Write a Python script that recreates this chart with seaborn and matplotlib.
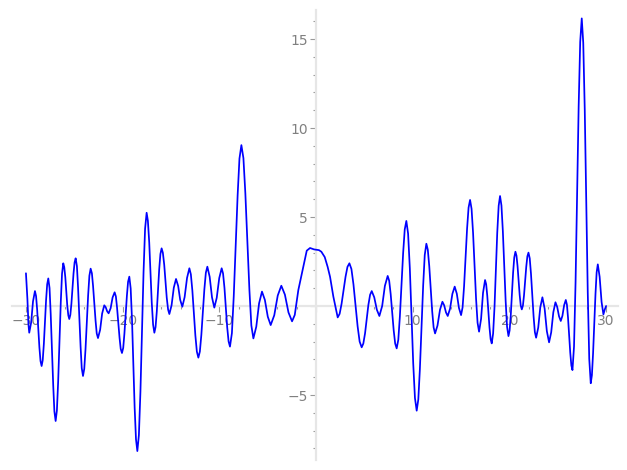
import matplotlib
matplotlib.use("Agg")
import matplotlib.pyplot as plt
from matplotlib.ticker import MultipleLocator, FuncFormatter
import seaborn as sns
import pandas as pd

# Curve samples (x, y)
x_vals = [
    -30.00, -29.85, -29.74, -29.66, -29.46, -29.27, -29.07, -28.84, -28.61, -28.38,
    -28.15, -27.92, -27.69, -27.44, -27.18, -26.93, -26.67, -26.40, -26.14, -25.93,
    -25.73, -25.52, -25.30, -25.08, -24.86, -24.61, -24.35, -24.10, -23.84, -23.57,
    -23.31, -23.06, -22.80, -22.55, -22.33, -22.12, -21.90, -21.75, -21.60, -21.45,
    -21.24, -21.04, -20.83, -20.58, -20.32, -20.07, -19.82, -19.56, -19.31, -19.03,
    -18.76, -18.48, -18.16, -17.84, -17.52, -17.25, -16.99, -16.72, -16.47, -16.22,
    -15.97, -15.70, -15.44, -15.17, -14.94, -14.71, -14.48, -14.26, -14.05, -13.83,
    -13.59, -13.34, -13.10, -12.79, -12.48, -12.17, -11.86, -11.55, -11.24, -11.00,
    -10.76, -10.52, -10.27, -10.01, -9.76, -9.47, -9.19, -8.90, -8.51, -8.11,
    -7.72, -7.31, -6.89, -6.48, -6.18, -5.89, -5.59, -5.29, -4.99, -4.69,
    -4.32, -3.96, -3.59, -3.22, -2.85, -2.48, -2.20, -1.83, -1.31, -0.96,
    -0.62, -0.20, 0.30, 0.55, 0.90, 1.20, 1.45, 1.79, 2.24, 2.64,
    3.05, 3.45, 3.87, 4.30, 4.72, 5.07, 5.41, 5.76, 6.02, 6.29,
    6.55, 6.84, 7.12, 7.41, 7.72, 8.03, 8.34, 8.67, 9.01, 9.34,
    9.70, 10.05, 10.41, 10.74, 11.08, 11.41, 11.71, 12.01, 12.31, 12.56,
    12.82, 13.07, 13.25, 13.44, 13.62, 13.86, 14.10, 14.34, 14.56, 14.78,
    15.00, 15.31, 15.62, 15.93, 16.24, 16.55, 16.86, 17.07, 17.27, 17.48,
    17.71, 17.94, 18.17, 18.46, 18.74, 19.03, 19.32, 19.61, 19.90, 20.14,
    20.38, 20.62, 20.84, 21.06, 21.28, 21.51, 21.74, 21.97, 22.23, 22.50,
    22.76, 22.98, 23.19, 23.41, 23.64, 23.87, 24.10, 24.32, 24.54, 24.76,
    24.94, 25.13, 25.31, 25.48, 25.66, 25.83, 26.06, 26.29, 26.52, 26.84,
    27.16, 27.48, 27.79, 28.10, 28.41, 28.65, 28.90, 29.14, 29.33, 29.53,
    29.72, 29.86, 30.00,
]
y_vals = [
    1.84, 0.40, -1.05, -1.50, -0.92, 0.26, 0.84, -0.21, -2.32, -3.37,
    -2.14, 0.32, 1.55, -0.45, -4.46, -6.46, -4.25, 0.19, 2.40, 1.62,
    0.05, -0.73, 0.12, 1.83, 2.68, 1.03, -2.28, -3.93, -2.42, 0.59,
    2.10, 1.13, -0.83, -1.80, -1.34, -0.42, 0.04, -0.07, -0.30, -0.41,
    -0.12, 0.48, 0.77, -0.08, -1.79, -2.64, -1.57, 0.58, 1.65, -0.80,
    -5.70, -8.15, -4.80, 1.89, 5.24, 3.56, 0.19, -1.50, -0.32, 2.06,
    3.24, 2.32, 0.47, -0.45, 0.04, 1.03, 1.52, 1.13, 0.35, -0.04,
    0.50, 1.58, 2.12, 0.87, -1.65, -2.90, -1.62, 0.93, 2.21, 1.64,
    0.49, -0.09, 0.46, 1.57, 2.12, 1.02, -1.18, -2.28, 0.55, 6.21,
    9.04, 6.33, 0.90, -1.82, -1.16, 0.15, 0.81, 0.34, -0.60, -1.07,
    -0.52, 0.59, 1.14, 0.64, -0.36, -0.86, -0.50, 0.90, 2.21, 3.11,
    3.26, 3.18, 3.14, 3.05, 2.75, 2.20, 1.64, 0.53, -0.64, 0.12,
    1.64, 2.40, 1.22, -1.14, -2.32, -1.53, 0.05, 0.84, 0.49, -0.21,
    -0.56, 0.00, 1.13, 1.69, 0.67, -1.36, -2.38, -0.59, 2.99, 4.78,
    2.12, -3.22, -5.88, -3.54, 1.16, 3.50, 2.24, -0.28, -1.54, -1.10,
    -0.21, 0.24, 0.04, -0.36, -0.56, -0.15, 0.68, 1.09, 0.69, -0.11,
    -0.51, 1.11, 4.34, 5.96, 4.11, 0.41, -1.44, -0.72, 0.74, 1.46,
    0.57, -1.21, -2.10, -0.03, 4.11, 6.18, 4.21, 0.28, -1.69, -0.51,
    1.87, 3.05, 2.24, 0.62, -0.19, 0.61, 2.20, 3.00, 1.81, -0.59,
    -1.78, -1.21, -0.08, 0.49, -0.14, -1.41, -2.04, -1.48, -0.35, 0.21,
    -0.05, -0.58, -0.84, -0.55, 0.05, 0.34, -0.65, -2.62, -3.60, 1.34,
    11.22, 16.16, 11.04, 0.79, -4.34, -2.67, 0.67, 2.34, 1.64, 0.23,
    -0.47, -0.20, 0.00,
]

# Extra samples read on the steep flanks of the larger swings
x_flank = [
    -28.955, -28.725, -28.495, -28.265, -28.035, -27.805, -27.56, -27.31, -27.06,
    -26.80, -26.535, -26.27, -26.04, -25.83, -25.62, -25.41, -25.19, -24.97,
    -24.73, -24.48, -24.23, -23.97, -23.705, -23.44, -23.18, -22.93, -22.68,
    -20.70, -20.45, -20.20, -19.94, -19.69, -19.44, -19.17, -18.895, -18.62,
    -18.32, -18.00, -17.68, -17.39, -17.12, -16.85, -16.595, -16.345, -16.095,
    -15.84, -15.57, -15.30, -12.945, -12.635, -12.325, -12.015, -11.705, -11.395,
    -9.617, -9.33, -9.043, -8.70, -8.31, -7.92, -7.51, -7.10, -6.69,
    2.44, 2.845, 3.25, 3.66, 4.085, 4.51, 4.89, 5.24, 5.59,
    7.565, 7.875, 8.185, 8.507, 8.84, 9.173, 9.52, 9.875, 10.23,
    10.577, 10.91, 11.243, 11.56, 11.86, 12.16, 15.155, 15.465, 15.775,
    16.085, 16.395, 16.705, 17.595, 17.825, 18.055, 18.313, 18.60, 18.887,
    19.175, 19.465, 19.755, 20.02, 20.26, 20.50, 20.73, 20.95, 21.17,
    21.395, 21.625, 21.855, 22.10, 22.365, 22.63, 25.945, 26.175, 26.405,
    26.68, 27.00, 27.32, 27.635, 27.945, 28.255, 28.53, 28.775, 29.02,
]
y_flank = [
    0.56, -1.27, -3.09, -3.04, -0.91, 1.22, 1.01, -2.46, -5.92,
    -5.87, -2.03, 1.81, 2.19, 0.84, -0.52, -0.50, 0.98, 2.45,
    2.24, -0.63, -3.49, -3.53, -0.92, 1.70, 1.84, 0.15, -1.54,
    0.54, -0.94, -2.41, -2.35, -0.50, 1.36, 0.99, -3.25, -7.49,
    -7.25, -1.46, 4.34, 4.79, 1.87, -1.05, -1.18, 0.87, 2.92,
    2.99, 1.40, -0.20, 1.78, -0.39, -2.56, -2.56, -0.35, 1.87,
    1.83, -0.08, -1.99, -1.52, 3.38, 8.28, 8.31, 3.61, -1.09,
    -0.44, 0.88, 2.20, 2.08, 0.04, -2.00, -2.11, -0.74, 0.63,
    1.42, -0.35, -2.11, -1.90, 1.20, 4.30, 4.07, -0.55, -5.17,
    -5.25, -1.19, 2.87, 3.16, 0.98, -1.20, -0.08, 2.73, 5.53,
    5.46, 2.26, -0.94, 1.22, -0.32, -1.86, -1.55, 2.04, 5.63,
    5.65, 2.25, -1.16, -1.37, 0.68, 2.73, 2.83, 1.43, 0.03,
    0.02, 1.41, 2.79, 2.68, 0.61, -1.46, 0.08, -1.63, -3.34,
    -2.28, 6.28, 14.84, 14.79, 5.91, -2.97, -3.89, -1.00, 1.89,
]

x_major = [-30, -20, -10, 0, 10, 20, 30]
y_major = [-5, 0, 5, 10, 15]

df = pd.concat([
    pd.DataFrame({"x": x_vals, "y": y_vals}),
    pd.DataFrame({"x": x_flank, "y": y_flank}),
]).sort_values("x").reset_index(drop=True)

sns.set_theme(style="white")
plt.rcParams["font.family"] = ["DejaVu Sans"]

fig = plt.figure(figsize=(6.27, 4.70), dpi=100)
ax = fig.add_axes([0.0198, 0.0213, 0.9654, 0.9574])

sns.lineplot(data=df, x="x", y="y", sort=False, estimator=None,
             color="#0000ff", linewidth=1.25, ax=ax, zorder=5)

ax.set_xlim(-31.4, 31.2)
ax.set_ylim(-8.65, 16.63)
ax.set_xlabel("")
ax.set_ylabel("")

for side in ["top", "right"]:
    ax.spines[side].set_visible(False)
for side in ["left", "bottom"]:
    ax.spines[side].set_position("zero")
    ax.spines[side].set_color("#e6e6e6")
    ax.spines[side].set_linewidth(1.6)
    ax.spines[side].set_zorder(1)

ax.set_xticks(x_major)
ax.xaxis.set_minor_locator(MultipleLocator(2))
ax.set_yticks(y_major)
ax.yaxis.set_minor_locator(MultipleLocator(1))

fmt = FuncFormatter(lambda v, p: "" if abs(v) < 1e-9 else f"{v:g}".replace("-", "\u2212"))
ax.xaxis.set_major_formatter(fmt)
ax.yaxis.set_major_formatter(fmt)

ax.tick_params(axis="both", which="major", direction="out", length=4, width=0.8,
               color="#999999", labelcolor="#808080", labelsize=10, pad=2)
ax.tick_params(axis="both", which="minor", direction="out", length=2, width=0.8,
               color="#999999")
ax.tick_params(bottom=True, left=True, which="both")
ax.grid(False)

fig.savefig("out.png", dpi=100)
